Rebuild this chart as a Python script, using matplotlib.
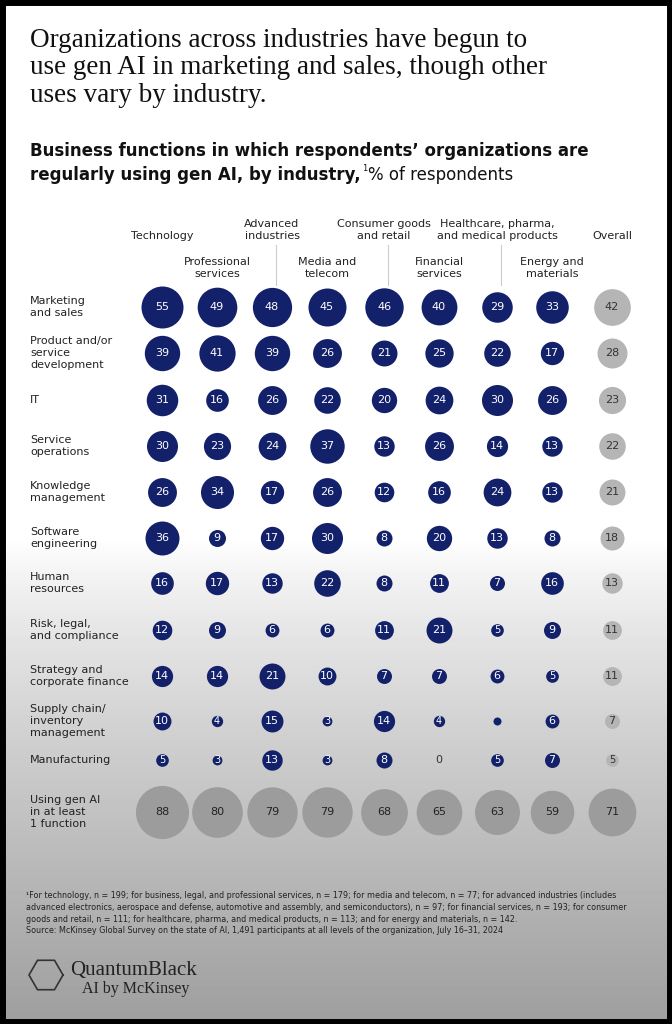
import matplotlib.pyplot as plt
import numpy as np

industries = ["Technology", "Professional\nservices", "Advanced\nindustries", "Media and\ntelecom",
              "Consumer goods\nand retail", "Financial\nservices", "Healthcare, pharma,\nand medical products",
              "Energy and\nmaterials", "Overall"]
functions = ["Marketing\nand sales", "Product and/or\nservice\ndevelopment", "IT", "Service\noperations",
             "Knowledge\nmanagement", "Software\nengineering", "Human\nresources", "Risk, legal,\nand compliance",
             "Strategy and\ncorporate finance", "Supply chain/\ninventory\nmanagement", "Manufacturing",
             "Using gen AI\nin at least\n1 function"]
values = [
    [55, 49, 48, 45, 46, 40, 29, 33, 42],
    [39, 41, 39, 26, 21, 25, 22, 17, 28],
    [31, 16, 26, 22, 20, 24, 30, 26, 23],
    [30, 23, 24, 37, 13, 26, 14, 13, 22],
    [26, 34, 17, 26, 12, 16, 24, 13, 21],
    [36, 9, 17, 30, 8, 20, 13, 8, 18],
    [16, 17, 13, 22, 8, 11, 7, 16, 13],
    [12, 9, 6, 6, 11, 21, 5, 9, 11],
    [14, 14, 21, 10, 7, 7, 6, 5, 11],
    [10, 4, 15, 3, 14, 4, 2, 6, 7],
    [5, 3, 13, 3, 8, 0, 5, 7, 5],
    [88, 80, 79, 79, 68, 65, 63, 59, 71],
]

W, H = 672, 1024
fig = plt.figure(figsize=(W / 100, H / 100), dpi=100)
ax = fig.add_axes([0, 0, 1, 1])
ax.set_xlim(0, W)
ax.set_ylim(H, 0)
ax.axis("off")

# background gradient: white on top, grey towards the bottom
grad = np.ones((H, 1))
ys = np.arange(H)
grad[:, 0] = np.where(ys < 540, 1.0, 1.0 - 0.38 * ((ys - 540) / (H - 540)) ** 0.8)
ax.imshow(np.repeat(grad, 2, axis=1), cmap="gray", vmin=0, vmax=1, extent=[0, W, H, 0], aspect="auto", zorder=0)
ax.plot([2, W - 2, W - 2, 2, 2], [2, 2, H - 2, H - 2, 2], color="black", lw=5, zorder=5)

navy = "#13216b"
col_x = [162, 217, 272, 327, 384, 439, 497, 552, 612]
row_y = [307, 353, 400, 446, 492, 538, 583, 630, 676, 721, 760, 812]

ax.text(30, 28, "Organizations across industries have begun to\nuse gen AI in marketing and sales, though other\nuses vary by industry.",
        family="Liberation Serif", fontsize=19.5, va="top", linespacing=1.12, color="#111")
ax.text(30, 142, "Business functions in which respondents\u2019 organizations are", fontsize=12,
        fontweight="bold", va="top", color="#111")
t = ax.text(30, 166, "regularly using gen AI, by industry,", fontsize=12, fontweight="bold", va="top", color="#111")
fig.canvas.draw()
xe = t.get_window_extent().x1
ax.text(xe + 1, 164, "1", fontsize=6, va="top", color="#111")
ax.text(xe + 7, 166, "% of respondents", fontsize=12, va="top", color="#111")

for i, name in enumerate(industries):
    if i in (2, 4, 6):
        ax.text(col_x[i], 241, name, ha="center", va="bottom", fontsize=8, color="#222", linespacing=1.25)
        ax.plot([col_x[i] + 4] * 2, [245, 285], color="#ccc", lw=0.8)
    elif i in (0, 8):
        ax.text(col_x[i], 241, name, ha="center", va="bottom", fontsize=8, color="#222")
    else:
        ax.text(col_x[i], 279, name, ha="center", va="bottom", fontsize=8, color="#222", linespacing=1.25)

for r, fname in enumerate(functions):
    ax.text(30, row_y[r], fname, ha="left", va="center", fontsize=8, color="#222", linespacing=1.2)
    for c, v in enumerate(values[r]):
        rad = 21 * np.sqrt(v / 55)
        if r == len(functions) - 1:
            fc, tc = "#9c9c9c", "#222"
        elif c == 8:
            fc, tc = "#b5b5b5", "#333"
        else:
            fc, tc = navy, "white"
        if v > 0:
            ax.scatter(col_x[c], row_y[r], s=(2 * rad * 0.72) ** 2, color=fc, zorder=3, linewidths=0)
        if v > 2:
            ax.text(col_x[c], row_y[r], str(v), ha="center", va="center", fontsize=8 if v > 5 else 7,
                    color=tc, zorder=4)
        elif v == 0:
            ax.text(col_x[c], row_y[r], "0", ha="center", va="center", fontsize=8, color="#333", zorder=4)

foot = ("\u00b9For technology, n = 199; for business, legal, and professional services, n = 179; for media and telecom, n = 77; for advanced industries (includes\n"
        "advanced electronics, aerospace and defense, automotive and assembly, and semiconductors), n = 97; for financial services, n = 193; for consumer\n"
        "goods and retail, n = 111; for healthcare, pharma, and medical products, n = 113; and for energy and materials, n = 142.\n"
        "Source: McKinsey Global Survey on the state of AI, 1,491 participants at all levels of the organization, July 16\u201331, 2024")
ax.text(26, 891, foot, fontsize=5.8, va="top", color="#222", linespacing=1.4)

ang = np.deg2rad(np.arange(0, 361, 60))
ax.plot(46 + 17 * np.cos(ang), 975 + 17 * np.sin(ang), color="#333", lw=1.2)
ax.text(70, 975, "QuantumBlack", family="Liberation Serif", fontsize=15, va="baseline", color="#222")
ax.text(82, 981, "AI by McKinsey", family="Liberation Serif", fontsize=11.5, va="top", color="#222")

fig.savefig("out.png", dpi=100)
